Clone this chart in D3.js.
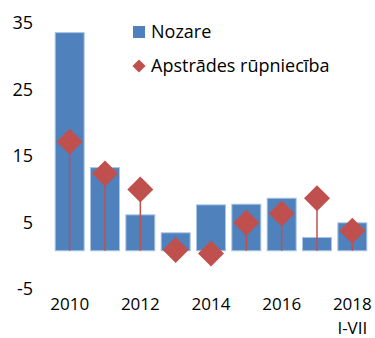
<!DOCTYPE html>
<html>
<head>
<meta charset="utf-8">
<script src="https://cdn.jsdelivr.net/npm/d3@7"></script>
<style>
  html, body { margin: 0; padding: 0; background: #fff; }
  svg { display: block; }
  text { font-family: "Open Sans", "Noto Sans", sans-serif; fill: #000; }
</style>
</head>
<body>
<svg id="chart" width="375" height="338"></svg>
<script>
// Annual growth, %
const years = ["2010", "2011", "2012", "2013", "2014", "2015", "2016", "2017", "2018"];
const nozare = [32.8, 12.5, 5.4, 2.7, 6.9, 7.0, 7.9, 2.0, 4.2];
const apstrade = [16.4, 11.6, 9.2, 0.1, -0.4, 4.2, 5.6, 7.9, 3.0];
const yTicks = [-5, 5, 15, 25, 35];
const xLabels = { "2010": ["2010"], "2012": ["2012"], "2014": ["2014"], "2016": ["2016"], "2018": ["2018", "I-VII"] };
const seriesNames = ["Nozare", "Apstrādes rūpniecība"];

const barColor = "#4f81bd";
const barStroke = "#a9c4e6";
const dotColor = "#c0504d";

const svg = d3.select("#chart");

const x = d3.scaleBand().domain(years).range([52, 370]).paddingInner(0.18).paddingOuter(0.09);
const y = d3.scaleLinear().domain([-5, 35]).range([284, 18]);

// y axis labels (no line, no ticks); plain hyphen for negatives
const yAxis = svg.append("g").attr("transform", "translate(33,0)")
  .call(d3.axisLeft(y).tickValues(yTicks).tickSize(0).tickPadding(0).tickFormat((d) => String(d)));
yAxis.select(".domain").remove();
yAxis.selectAll("text").attr("font-size", 18).attr("dy", "0.6em")
  .style("font-family", "'Open Sans', sans-serif").attr("fill", "#000");

// bars
svg.append("g").selectAll("rect").data(years).join("rect")
  .attr("x", (d) => x(d))
  .attr("width", x.bandwidth())
  .attr("y", (d, i) => y(Math.max(0, nozare[i])))
  .attr("height", (d, i) => Math.abs(y(nozare[i]) - y(0)))
  .attr("fill", barColor)
  .attr("stroke", barStroke)
  .attr("stroke-width", 1);

// stems from zero to the markers
svg.append("g").selectAll("line").data(years).join("line")
  .attr("x1", (d) => x(d) + x.bandwidth() / 2)
  .attr("x2", (d) => x(d) + x.bandwidth() / 2)
  .attr("y1", y(0))
  .attr("y2", (d, i) => y(apstrade[i]))
  .attr("stroke", dotColor)
  .attr("stroke-width", 1.5);

// diamond markers
const diamond = d3.symbol().type(d3.symbolDiamond2).size(430);
svg.append("g").selectAll("path").data(years).join("path")
  .attr("d", diamond)
  .attr("transform", (d, i) => `translate(${x(d) + x.bandwidth() / 2},${y(apstrade[i])})`)
  .attr("fill", dotColor);

// x labels, every second year
const xl = svg.append("g");
Object.entries(xLabels).forEach(([yr, lines]) => {
  const cx = x(yr) + x.bandwidth() / 2;
  const t = xl.append("text")
    .attr("x", cx)
    .attr("y", 310)
    .attr("text-anchor", "middle")
    .attr("font-size", 17);
  lines.forEach((ln, k) => {
    t.append("tspan").attr("x", cx).attr("dy", k === 0 ? 0 : 24).text(ln);
  });
});

// legend
const lg = svg.append("g");
lg.append("rect").attr("x", 133).attr("y", 26).attr("width", 12).attr("height", 12).attr("fill", barColor);
lg.append("text").attr("x", 151).attr("y", 38).attr("font-size", 18).text(seriesNames[0]);
lg.append("path").attr("d", d3.symbol().type(d3.symbolDiamond2).size(110))
  .attr("transform", "translate(139,66)").attr("fill", dotColor);
lg.append("text").attr("x", 151).attr("y", 72).attr("font-size", 18).text(seriesNames[1]);
</script>
</body>
</html>
